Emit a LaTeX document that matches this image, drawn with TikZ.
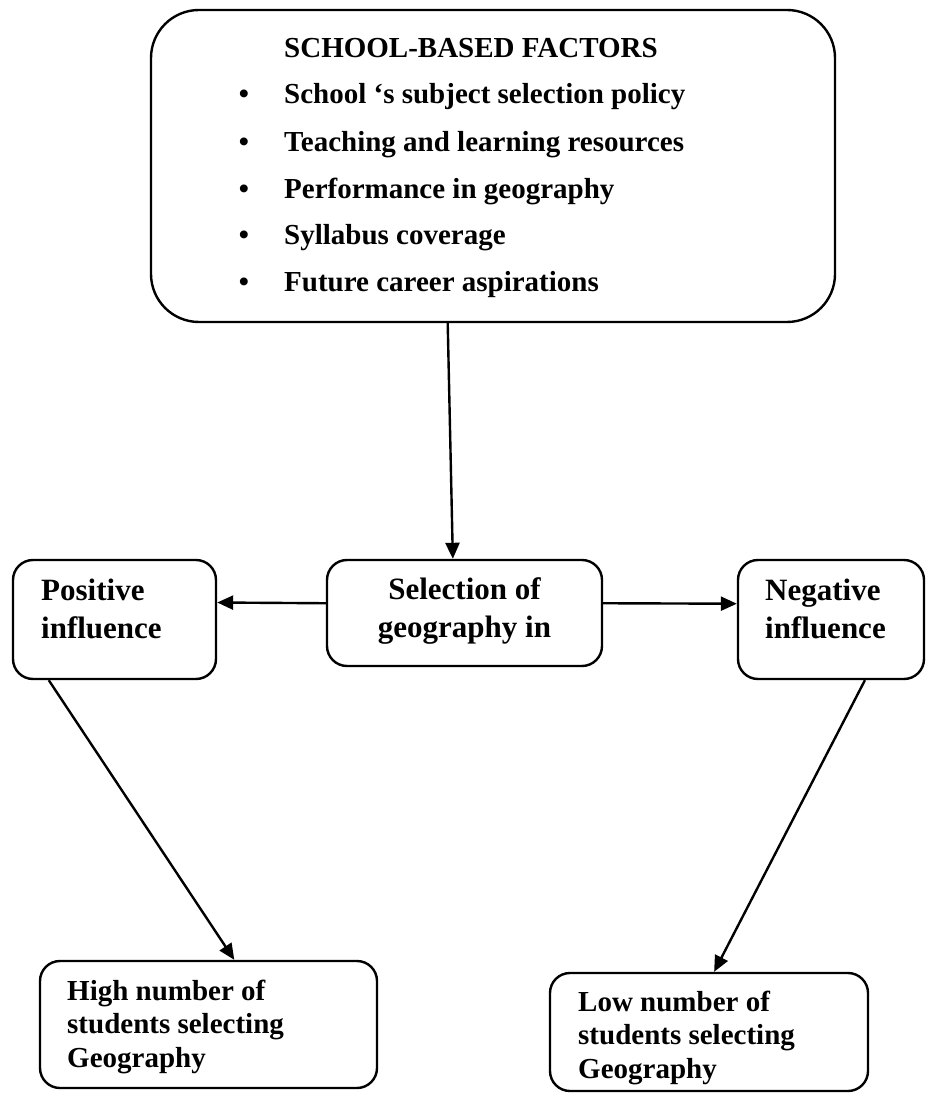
\documentclass[tikz,border=0pt]{standalone}
\usepackage{fontspec}
\setmainfont{Liberation Serif}
\usetikzlibrary{calc,arrows.meta}
\tikzset{
	% ---- default
	every path/.style={line width=1.2pt},
	every node/.style={font=\bfseries},
	% ---- custom
	box/.style={draw, rectangle, rounded corners=10pt, inner sep=0pt},
	bigbox/.style={box, rounded corners=24pt},
	list font/.style={anchor=base west, inner sep=0pt, font=\fontsize{14.5}{17}\selectfont\bfseries},
	mid font/.style={anchor=base west, align=left, inner sep=0pt, font=\fontsize{15.5}{19}\selectfont\bfseries},
	foot font/.style={anchor=base west, align=left, inner sep=0pt, font=\fontsize{14.5}{16.75}\selectfont\bfseries},
	connector/.style={-{Triangle[length=8pt, width=7pt]}},
}

\begin{document}
\begin{tikzpicture}[x=0.5pt, y=-0.5pt]

% parameters %{{{2

	\def\pagew{927}
	\def\pageh{1095}

% frame %{{{2

	\useasboundingbox (0,0) rectangle (\pagew,\pageh);

% boxes %{{{2

	\node[bigbox, minimum width=342pt, minimum height=156pt] (factors) at (493,166) {};

	\node[box, minimum width=101.5pt, minimum height=59.5pt] (positive) at (114.5,619.5) {};
	\node[box, minimum width=137.5pt, minimum height=53pt] (selection) at (464.5,613) {};
	\node[box, minimum width=93pt, minimum height=59.5pt] (negative) at (831,619.5) {};

	\node[box, minimum width=168.5pt, minimum height=63.5pt] (high) at (208.5,1024.5) {};
	\node[box, minimum width=159pt, minimum height=59pt] (low) at (709,1032) {};

% factors list %{{{2

	\node[list font] (title) at (283,58) {SCHOOL-BASED FACTORS};

	\foreach \y/\txt [count=\i] in {104/School `s subject selection policy,
		152/Teaching and learning resources, 199/Performance in geography,
		245/Syllabus coverage, 292/Future career aspirations} {
		\node[list font, anchor=base] (dot\i) at (244,\y) {\textbullet};
		\node[list font] (item\i) at (283,\y) {\txt};
	}

% box labels (base = last line) %{{{2

	\node[mid font] (positive text) at (40,638) {Positive\\influence};
	\node[mid font, anchor=base, align=center] (selection text) at (464.5,637) {Selection of\\geography in};
	\node[mid font] (negative text) at (764,638) {Negative\\influence};

	\node[foot font] (high text) at (66,1067) {High number of\\students selecting\\Geography};
	\node[foot font] (low text) at (577,1078) {Low number of\\students selecting\\Geography};

% arrows %{{{2

	\draw[connector] ($(factors.south west)!0.434!(factors.south east)$)
		-- ($(selection.north west)!0.458!(selection.north east)$);

	\draw[connector] ($(selection.north west)!0.41!(selection.south west)$)
		-- ($(positive.north east)!0.36!(positive.south east)$);
	\draw[connector] ($(selection.north east)!0.41!(selection.south east)$)
		-- ($(negative.north west)!0.37!(negative.south west)$);

	\draw[connector] ($(positive.south west)!0.18!(positive.south east)$)
		-- ($(high.north west)!0.576!(high.north east)$);
	\draw[connector] ($(negative.south west)!0.68!(negative.south east)$)
		-- ($(low.north west)!0.516!(low.north east)$);

% closing %{{{2

\end{tikzpicture}
\end{document}
